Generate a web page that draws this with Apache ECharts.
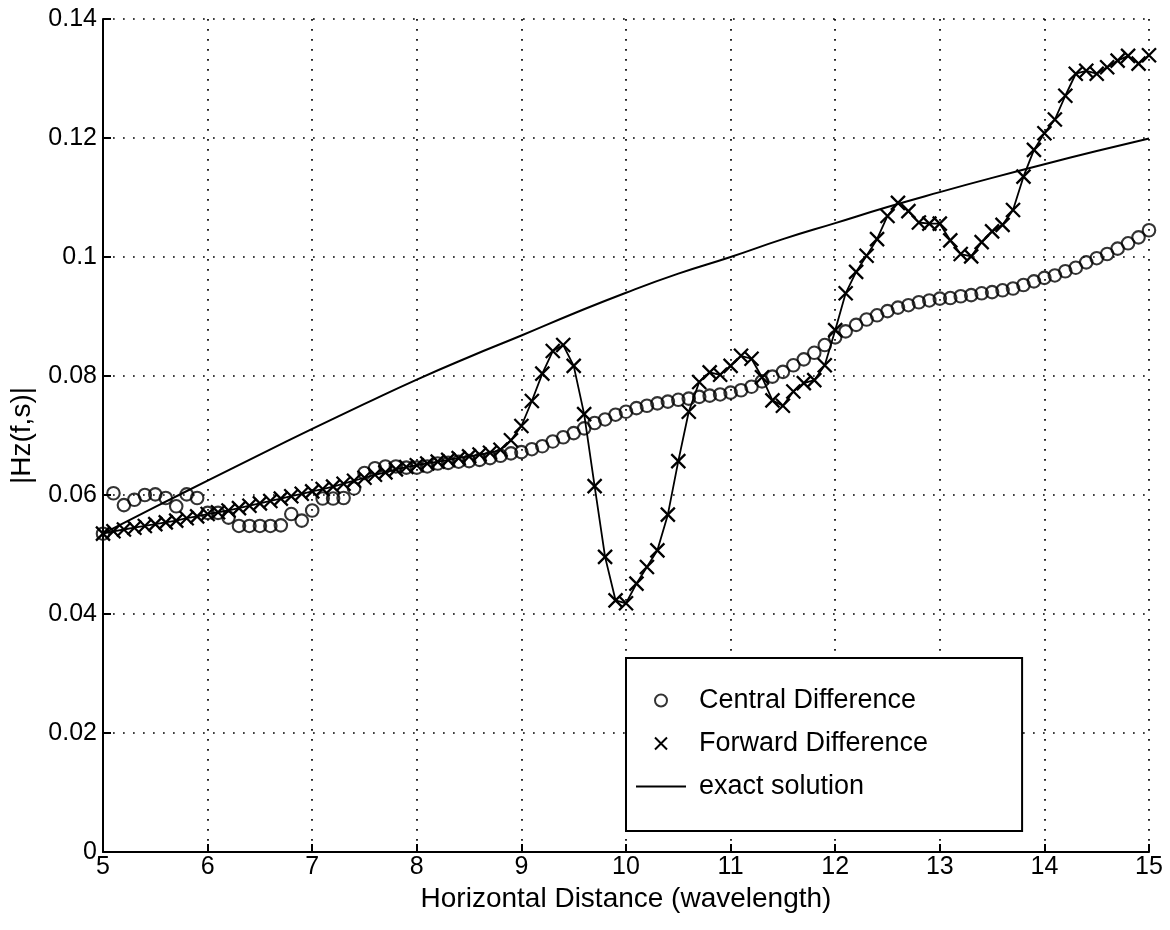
<!DOCTYPE html>
<html>
<head>
<meta charset="utf-8">
<script src="https://cdn.jsdelivr.net/npm/echarts@6/dist/echarts.min.js"></script>
<style>
html,body{margin:0;padding:0;background:#fff;}
#chart{width:1170px;height:930px;}
</style>
</head>
<body>
<div id="chart"></div>
<script>
// x positions (wavelength) shared by the two finite-difference series
const xs = [5.0,5.1,5.2,5.3,5.4,5.5,5.6,5.7,5.8,5.9,
  6.0,6.1,6.2,6.3,6.4,6.5,6.6,6.7,6.8,6.9,
  7.0,7.1,7.2,7.3,7.4,7.5,7.6,7.7,7.8,7.9,
  8.0,8.1,8.2,8.3,8.4,8.5,8.6,8.7,8.8,8.9,
  9.0,9.1,9.2,9.3,9.4,9.5,9.6,9.7,9.8,9.9,
  10.0,10.1,10.2,10.3,10.4,10.5,10.6,10.7,10.8,10.9,
  11.0,11.1,11.2,11.3,11.4,11.5,11.6,11.7,11.8,11.9,
  12.0,12.1,12.2,12.3,12.4,12.5,12.6,12.7,12.8,12.9,
  13.0,13.1,13.2,13.3,13.4,13.5,13.6,13.7,13.8,13.9,
  14.0,14.1,14.2,14.3,14.4,14.5,14.6,14.7,14.8,14.9,
  15.0];

const centralY = [0.0535,0.0603,0.0583,0.0592,0.0600,0.0601,0.0595,0.0581,0.0601,0.0595,
  0.0570,0.0570,0.0562,0.0548,0.0548,0.0548,0.0548,0.0549,0.0568,0.0557,
  0.0574,0.0594,0.0594,0.0595,0.0611,0.0637,0.0645,0.0648,0.0648,0.0646,
  0.0646,0.0648,0.0653,0.0654,0.0656,0.0657,0.0659,0.0662,0.0666,0.0670,
  0.0672,0.0677,0.0682,0.0690,0.0697,0.0704,0.0712,0.0721,0.0727,0.0735,
  0.0740,0.0746,0.0750,0.0754,0.0757,0.0760,0.0762,0.0765,0.0767,0.0769,
  0.0772,0.0776,0.0782,0.0791,0.0799,0.0807,0.0818,0.0828,0.0839,0.0852,
  0.0865,0.0875,0.0886,0.0895,0.0902,0.0909,0.0915,0.0919,0.0924,0.0927,
  0.0930,0.0931,0.0934,0.0936,0.0939,0.0941,0.0944,0.0947,0.0953,0.0959,
  0.0965,0.0969,0.0976,0.0982,0.0991,0.0998,0.1005,0.1014,0.1023,0.1033,
  0.1045];

const forwardY = [0.0535,0.0539,0.0542,0.0545,0.0548,0.0551,0.0554,0.0557,0.0561,0.0564,
  0.0568,0.0571,0.0574,0.0578,0.0582,0.0586,0.0590,0.0594,0.0598,0.0602,
  0.0606,0.0610,0.0614,0.0619,0.0624,0.0629,0.0634,0.0638,0.0643,0.0647,
  0.0650,0.0653,0.0656,0.0659,0.0662,0.0665,0.0668,0.0671,0.0676,0.0692,
  0.0716,0.0758,0.0804,0.0842,0.0852,0.0817,0.0736,0.0615,0.0496,0.0423,
  0.0418,0.0451,0.0479,0.0507,0.0567,0.0657,0.0740,0.0790,0.0806,0.0802,
  0.0817,0.0834,0.0829,0.0798,0.0759,0.0750,0.0774,0.0788,0.0793,0.0818,
  0.0877,0.0939,0.0975,0.1002,0.1030,0.1069,0.1091,0.1077,0.1058,0.1056,
  0.1056,0.1028,0.1005,0.1001,0.1025,0.1043,0.1054,0.1079,0.1135,0.1180,
  0.1208,0.1231,0.1271,0.1308,0.1313,0.1308,0.1319,0.1330,0.1338,0.1325,
  0.1339];

const exactX = [5.0,5.5,6.0,6.5,7.0,7.5,8.0,8.5,9.0,9.5,10.0,10.5,11.0,11.5,12.0,12.5,13.0,13.5,14.0,14.5,15.0];
const exactY = [0.0535,0.0580,0.0624,0.0668,0.0711,0.0753,0.0794,0.0832,0.0868,0.0905,0.0940,0.0972,0.1000,0.1030,0.1057,0.1084,0.1109,0.1133,0.1156,0.1178,0.1199];

const seriesNames = ['Central Difference', 'Forward Difference', 'exact solution'];
const xTitle = 'Horizontal Distance (wavelength)';
const yTitle = '|Hz(f,s)|';

const crossPath = 'path://M0,0L10,10M10,0L0,10';
const linePath = 'path://M0,0L50,0L50,2L0,2Z';
const font = '"Liberation Sans", Arial, Helvetica, sans-serif';

const pairs = (xa, ya) => xa.map((x, i) => [x, ya[i]]);

const chart = echarts.init(document.getElementById('chart'), null, {renderer: 'canvas'});
const option = {
  animation: false,
  backgroundColor: '#fff',
  textStyle: {fontFamily: font, color: '#000'},
  grid: {left: 103, right: 21, top: 19, bottom: 78, containLabel: false},
  xAxis: {
    type: 'value', min: 5, max: 15, interval: 1,
    name: xTitle, nameLocation: 'middle', nameGap: 33,
    nameTextStyle: {fontSize: 28, color: '#000', fontFamily: font},
    axisLine: {show: true, onZero: false, lineStyle: {color: '#000', width: 2}},
    axisTick: {show: true, inside: true, length: 8, lineStyle: {color: '#000', width: 2}},
    axisLabel: {fontSize: 25, color: '#000', margin: 3, fontFamily: font},
    splitLine: {show: true, lineStyle: {color: '#000', width: 1.7, type: [1.7, 8.3]}}
  },
  yAxis: {
    type: 'value', min: 0, max: 0.14, interval: 0.02,
    name: yTitle, nameLocation: 'middle', nameGap: 67,
    nameTextStyle: {fontSize: 28, color: '#000', fontFamily: font},
    axisLine: {show: true, onZero: false, lineStyle: {color: '#000', width: 2}},
    axisTick: {show: true, inside: true, length: 8, lineStyle: {color: '#000', width: 2}},
    axisLabel: {fontSize: 25, color: '#000', margin: 6, fontFamily: font,
      formatter: v => (v === 0 ? '0' : String(+v.toFixed(2)))},
    splitLine: {show: true, lineStyle: {color: '#000', width: 1.7, type: [1.7, 8.3]}}
  },
  legend: {
    orient: 'vertical', left: 626, top: 658,
    padding: [29, 94, 31, 10], itemGap: 16, itemWidth: 50, itemHeight: 12,
    borderColor: '#000', borderWidth: 2, backgroundColor: '#fff',
    selectedMode: false,
    textStyle: {fontSize: 27, color: '#000', fontFamily: font, padding: [0, 0, 0, 8]},
    data: [
      {name: seriesNames[0], icon: 'circle', itemStyle: {color: 'transparent', borderColor: '#000', borderWidth: 2}},
      {name: seriesNames[1], icon: crossPath, itemStyle: {color: '#000', borderColor: '#000', borderWidth: 2}},
      {name: seriesNames[2], icon: linePath, itemStyle: {color: '#000', borderColor: '#000', borderWidth: 0}}
    ]
  },
  series: [
    {
      name: seriesNames[0], type: 'scatter',
      data: pairs(xs, centralY),
      symbol: 'circle', symbolSize: 12.5,
      itemStyle: {color: 'transparent', borderColor: '#000', borderWidth: 2.1}
    },
    {
      name: seriesNames[1], type: 'line',
      data: pairs(xs, forwardY),
      symbol: crossPath, symbolSize: 14, showSymbol: true, showAllSymbol: true,
      lineStyle: {color: '#000', width: 1.8},
      itemStyle: {color: '#000', borderColor: '#000', borderWidth: 2.3}
    },
    {
      name: seriesNames[2], type: 'line',
      data: pairs(exactX, exactY),
      symbol: 'none', smooth: true,
      lineStyle: {color: '#000', width: 2},
      itemStyle: {color: '#000'}
    }
  ]
};
chart.setOption(option);
</script>
</body>
</html>
